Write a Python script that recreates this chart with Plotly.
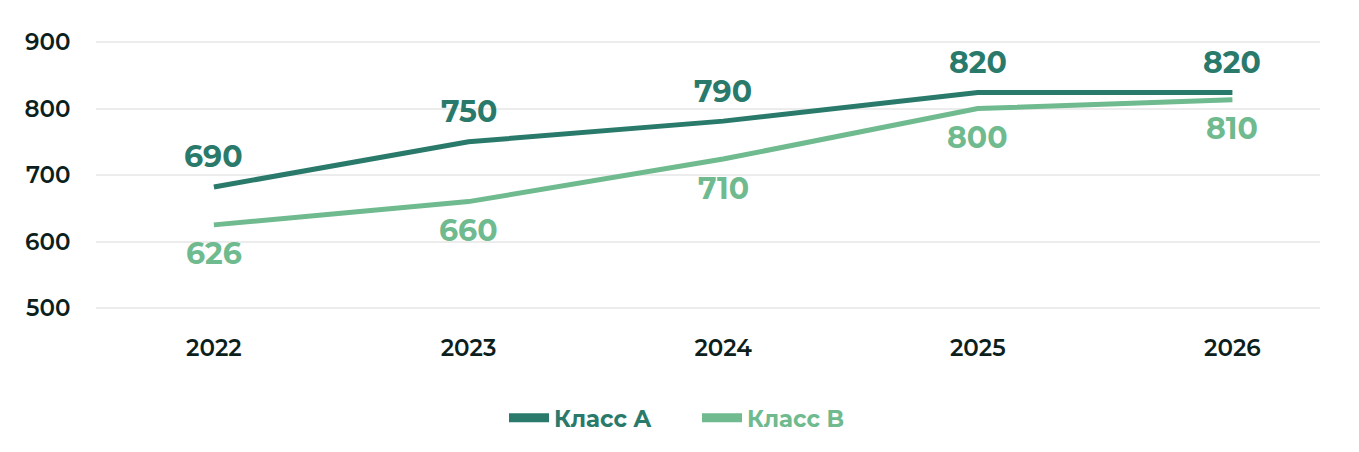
import plotly.graph_objects as go

years = ["2022", "2023", "2024", "2025", "2026"]
class_a = [682, 750, 781, 824, 824]
class_b = [625, 660, 724, 800, 813]
labels_a = ["690", "750", "790", "820", "820"]
labels_b = ["626", "660", "710", "800", "810"]
y_ticks = [500, 600, 700, 800, 900]
series_names = ["Класс A", "Класс B"]

color_a = "#2a7a6b"
color_b = "#6fba8e"
font_family = "Montserrat, Inter, 'Open Sans', sans-serif"

fig = go.Figure()
fig.add_trace(go.Scatter(x=years, y=class_a, mode="lines",
                         line=dict(color=color_a, width=5), showlegend=False))
fig.add_trace(go.Scatter(x=years, y=class_b, mode="lines",
                         line=dict(color=color_b, width=5), showlegend=False))
# legend entries with thicker swatches
for name, col in zip(series_names, [color_a, color_b]):
    fig.add_trace(go.Scatter(x=[None], y=[None], mode="lines",
                             line=dict(color=col, width=9),
                             name=f"<b><span style='color:{col}'>{name}</span></b>"))

for i, (y, t) in enumerate(zip(class_a, labels_a)):
    fig.add_annotation(x=i, y=y, xref="x", yref="y", text=f"<b>{t}</b>",
                       showarrow=False, yshift=30,
                       font=dict(family=font_family, size=30, color=color_a))
for i, (y, t) in enumerate(zip(class_b, labels_b)):
    fig.add_annotation(x=i, y=y, xref="x", yref="y", text=f"<b>{t}</b>",
                       showarrow=False, yshift=-29,
                       font=dict(family=font_family, size=30, color=color_b))

fig.update_layout(
    width=1351, height=444,
    margin=dict(l=88, r=39, t=32, b=142),
    plot_bgcolor="white", paper_bgcolor="white",
    font=dict(family=font_family, color="#0d1f1c"),
    showlegend=True,
    legend=dict(orientation="h", xref="container", yref="container",
                x=0.51, xanchor="center", y=0.077, yanchor="middle",
                font=dict(size=23, family=font_family), itemwidth=40,
                entrywidth=138, entrywidthmode="pixels",
                tracegroupgap=0),
    xaxis=dict(type="category", range=[-0.463, 4.344], showgrid=False,
               zeroline=False, showline=False, automargin=False,
               ticks="outside", ticklen=17, tickcolor="rgba(0,0,0,0)",
               tickfont=dict(size=23, family=font_family, weight=600, color="#0d1f1c")),
    yaxis=dict(range=[497.0, 903.0], tickvals=y_ticks, showgrid=True,
               gridcolor="#ececec", gridwidth=2, zeroline=False, showline=False,
               automargin=False,
               ticks="outside", ticklen=10, tickcolor="rgba(0,0,0,0)",
               ticklabelstandoff=10,
               tickfont=dict(size=23, family=font_family, weight=600, color="#0d1f1c")),
)

fig.write_html("out.html")
